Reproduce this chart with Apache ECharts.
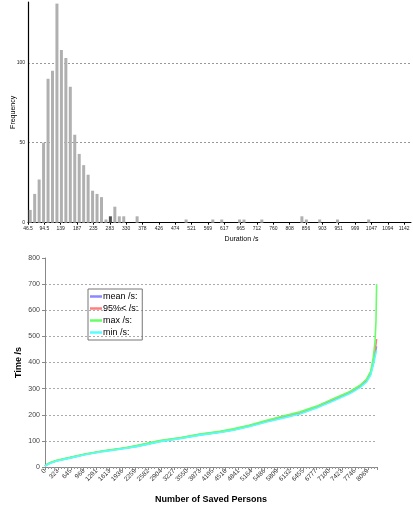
<!DOCTYPE html>
<html><head><meta charset="utf-8">
<script src="https://cdn.jsdelivr.net/npm/echarts@6/dist/echarts.min.js"></script>
<style>html,body{margin:0;padding:0;background:#fff}#c{width:413px;height:508px}</style>
</head><body><div id="c"></div>
<script>
// ---- Histogram (top) ----
const histFreq = [8,18,27,50,90,95,137,108,103,85,55,43,36,30,20,18,16,2,4,10,4,4,0,0,4,0,0,0,0,0,0,0,0,0,0,2,0,0,0,0,0,2,0,2,0,0,0,2,2,0,0,0,2,0,0,0,0,0,0,0,0,4,2,0,0,2,0,0,0,2,0,0,0,0,0,0,2,0,0,0,0,0,0,0,0,0];
const histDarkBin = 18;
const histTickLabels = ["46.5","94.5","139","187","235","283","330","378","426","474","521","569","617","665","712","760","808","856","903","951","999","1047","1094","1142"];
const histYTicks = [0, 50, 100];
// ---- Cumulative curve (bottom) ----
const persons = [0,60,150,300,625,1000,1458,2000,2292,2875,3400,3875,4375,4708,5100,5542,6000,6375,6792,7208,7625,7875,8042,8142,8208,8250,8275,8290];
const meanT = [3,10,16,24,35,48,60,72,79,98,110,123,133,142,156,174,191,205,228,256,284,307,330,357,398,432,450,462];
const p95T  = [3,11,17,25,36,49,61,73,81,100,112,125,135,144,158,176,194,208,231,259,287,311,334,362,405,445,470,490];
const maxT  = [4,12,18,26,37,50,62,74,82,101,113,126,137,146,160,179,197,211,233,261,289,313,337,366,420,480,560,700];
const minT  = [2,9,15,23,34,47,59,71,78,97,109,122,132,141,154,172,189,203,226,253,281,304,326,352,390,420,438,445];
const personTickLabels = ["0","323","645","968","1291","1613","1936","2259","2582","2904","3227","3550","3873","4195","4518","4841","5164","5486","5809","6132","6455","6777","7100","7423","7746","8069"];
const personStep = 322.76;
const seriesNames = ["mean /s:","95%< /s:","max /s:","min /s:"];
const seriesColors = ["#8a8aff","#ff7f7f","#66ff66","#55ffff"];

const font = "Liberation Sans, Arial, sans-serif";
const chart = echarts.init(document.getElementById('c'));
const zip = (xs, ys) => xs.map((x, i) => [x, ys[i]]);

chart.setOption({
  animation: false,
  textStyle: { fontFamily: font },
  grid: [
    { left: 28, right: 2, top: 2, bottom: 285.3, containLabel: false, outerBoundsMode: 'none' },
    { left: 45, right: 36, top: 258, bottom: 41, containLabel: false, outerBoundsMode: 'none' }
  ],
  legend: {
    data: seriesNames, orient: 'vertical', left: 88, top: 289,
    icon: 'rect', itemGap: 3, itemWidth: 12, itemHeight: 2.5,
    borderColor: '#777', borderWidth: 1, padding: [3, 4, 3, 2],
    textStyle: { fontSize: 9, color: '#000', fontFamily: font, padding: [0, 0, 0, -4] }
  },
  xAxis: [
    { gridIndex: 0, type: 'category', data: histFreq.map((_, i) => i), boundaryGap: true,
      axisLine: { show: false }, axisTick: { show: false }, axisLabel: { show: false } },
    { gridIndex: 0, type: 'value', min: 0, max: 23.42, interval: 1, position: 'bottom',
      axisLine: { show: true, lineStyle: { color: '#000', width: 1 } },
      axisTick: { show: true, length: 2, lineStyle: { color: '#000' } },
      splitLine: { show: false },
      axisLabel: { fontSize: 5, color: '#222', margin: 3, showMaxLabel: false,
        formatter: v => { const k = Math.round(v); return Math.abs(v - k) < 1e-6 && histTickLabels[k] ? histTickLabels[k] : ''; } },
      name: 'Duration /s', nameLocation: 'middle', nameGap: 13, nameMoveOverlap: false,
      nameTextStyle: { fontSize: 7, color: '#000', padding: [0, 0, 0, 44] } },
    { gridIndex: 1, type: 'value', min: 0, max: 8300, interval: personStep,
      axisLine: { show: true, lineStyle: { color: '#888' } },
      axisTick: { show: true, length: 3, lineStyle: { color: '#888' } },
      minorTick: { show: true, splitNumber: 4, length: 2, lineStyle: { color: '#999' } },
      splitLine: { show: false },
      axisLabel: { fontSize: 6.5, color: '#333', rotate: 45, margin: 3, showMaxLabel: false,
        formatter: v => { const k = Math.round(v / personStep); return personTickLabels[k] !== undefined && Math.abs(v - k * personStep) < 1 ? personTickLabels[k] : ''; } },
      name: 'Number of Saved Persons', nameLocation: 'middle', nameGap: 28, nameMoveOverlap: false,
      nameTextStyle: { fontSize: 9, fontWeight: 'bold', color: '#000' } }
  ],
  yAxis: [
    { gridIndex: 0, type: 'value', min: 0, max: 138, interval: 50,
      axisLine: { show: true, lineStyle: { color: '#000', width: 1.2 } },
      axisTick: { show: false },
      axisLabel: { fontSize: 5, color: '#222', margin: 3, showMaxLabel: false,
        formatter: v => histYTicks.includes(v) ? String(v) : '' },
      splitLine: { show: true, showMinLine: false, showMaxLine: false, lineStyle: { color: '#999', type: [2, 2], width: 1 } },
      name: 'Frequency', nameLocation: 'middle', nameGap: 11, nameRotate: 90, nameMoveOverlap: false,
      nameTextStyle: { fontSize: 7, color: '#000' } },
    { gridIndex: 1, type: 'value', min: 0, max: 800, interval: 100,
      axisLine: { show: true, lineStyle: { color: '#888' } },
      axisTick: { show: true, length: 3, lineStyle: { color: '#888' } },
      axisLabel: { fontSize: 7, color: '#444', margin: 5 },
      splitLine: { show: true, showMinLine: false, showMaxLine: false, lineStyle: { color: '#aaa', type: [2, 2], width: 1 } },
      name: 'Time /s', nameLocation: 'middle', nameGap: 22, nameRotate: 90, nameMoveOverlap: false,
      nameTextStyle: { fontSize: 9, fontWeight: 'bold', color: '#000' } }
  ],
  series: [
    { type: 'bar', xAxisIndex: 0, yAxisIndex: 0, barWidth: 3,
      data: histFreq.map((v, i) => ({ value: v, itemStyle: { color: i === histDarkBin ? '#505050' : '#b0b0b0' } })) },
    { name: seriesNames[0], type: 'line', xAxisIndex: 2, yAxisIndex: 1, symbol: 'none', z: 3,
      data: zip(persons, meanT), lineStyle: { width: 1.6 }, itemStyle: { color: seriesColors[0] }, color: seriesColors[0] },
    { name: seriesNames[1], type: 'line', xAxisIndex: 2, yAxisIndex: 1, symbol: 'none', z: 4,
      data: zip(persons, p95T), lineStyle: { width: 1.6 }, itemStyle: { color: seriesColors[1] }, color: seriesColors[1] },
    { name: seriesNames[2], type: 'line', xAxisIndex: 2, yAxisIndex: 1, symbol: 'none', z: 5,
      data: zip(persons, maxT), lineStyle: { width: 1.6 }, itemStyle: { color: seriesColors[2] }, color: seriesColors[2] },
    { name: seriesNames[3], type: 'line', xAxisIndex: 2, yAxisIndex: 1, symbol: 'none', z: 6,
      data: zip(persons, minT), lineStyle: { width: 1.6 }, itemStyle: { color: seriesColors[3] }, color: seriesColors[3] }
  ]
});
</script></body></html>
